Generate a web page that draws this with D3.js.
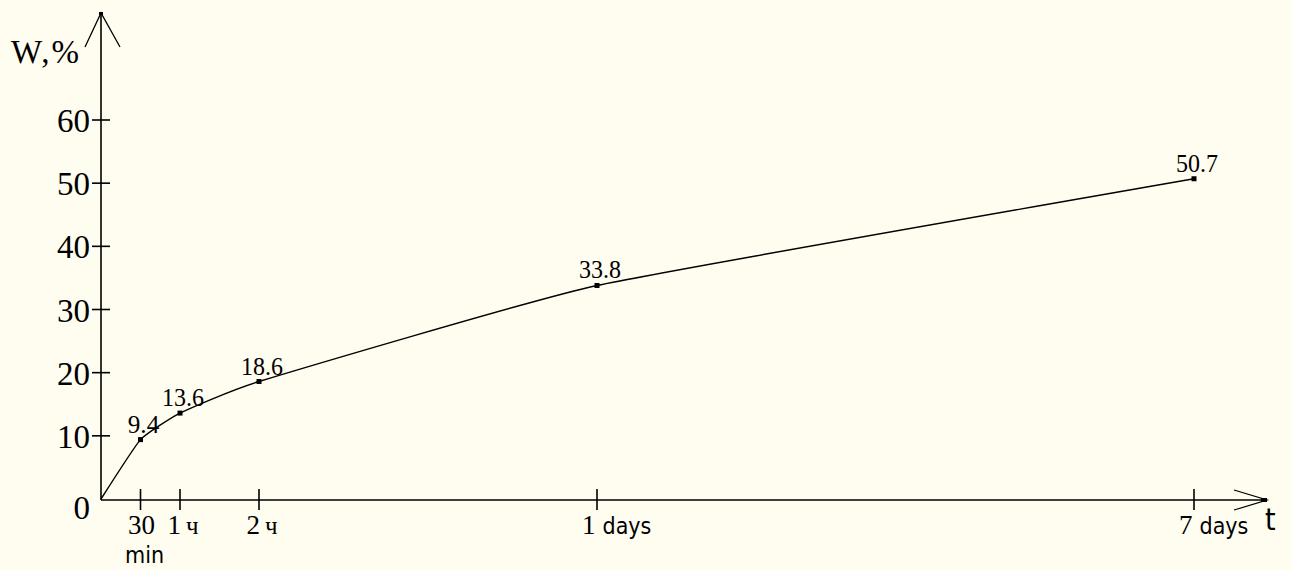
<!DOCTYPE html>
<html>
<head>
<meta charset="utf-8">
<script src="https://cdn.jsdelivr.net/npm/d3@7/dist/d3.min.js"></script>
<style>
  html, body { margin: 0; padding: 0; background: #FFFCF0; }
  svg { display: block; }
</style>
</head>
<body>
<svg id="chart" width="1292" height="570"></svg>
<script>
// ---- data ----
const times = [0, 0.5, 1, 2, 24, 168];          // hours
const values = [0, 9.4, 13.6, 18.6, 33.8, 50.7]; // W, %
const pointLabels = ["", "9.4", "13.6", "18.6", "33.8", "50.7"];
const xTickTimes = [0.5, 1, 2, 24, 168];
const xTickNumbers = ["30", "1", "2", "1", "7"];
const xTickUnits = ["", "ч", "ч", "days", "days"];
const xTickUnitsBelow = ["min", "", "", "", ""];
const yTicks = [0, 10, 20, 30, 40, 50, 60];
const yTitle = "W,%";
const xTitle = "t";

const svg = d3.select("#chart");
const ox = 101, oy = 499;

const x = d3.scaleLinear()
  .domain([0, 2, 24, 168])
  .range([ox, 259, 597, 1194]);
const y = d3.scaleLinear().domain([0, 60]).range([oy, 120]);

const ink = "#000";
const serif = "'Liberation Serif', 'Times New Roman', serif";
const sans = "'DejaVu Sans Condensed', 'Liberation Sans Narrow', 'DejaVu Sans', sans-serif";

// axes lines
svg.append("line").attr("x1", ox).attr("y1", oy + 1).attr("x2", ox).attr("y2", 13)
  .attr("stroke", ink).attr("stroke-width", 1.6);
svg.append("line").attr("x1", ox).attr("y1", oy + 1).attr("x2", 1266).attr("y2", oy + 1)
  .attr("stroke", ink).attr("stroke-width", 1.6);

// arrowheads
svg.append("polyline").attr("points", `85,47 101,13 120,47`)
  .attr("fill", "none").attr("stroke", ink).attr("stroke-width", 1.3);
svg.append("polyline").attr("points", `1234,490 1267,500 1234,510`)
  .attr("fill", "none").attr("stroke", ink).attr("stroke-width", 1.3);
svg.append("rect").attr("x", 99).attr("y", 12).attr("width", 4).attr("height", 3).attr("fill", ink);
svg.append("rect").attr("x", 1261).attr("y", 498).attr("width", 6).attr("height", 4).attr("fill", ink);

// y ticks
const yt = svg.append("g");
yTicks.forEach(v => {
  if (v > 0) {
    yt.append("line").attr("x1", ox - 9).attr("x2", ox + 9)
      .attr("y1", y(v)).attr("y2", y(v)).attr("stroke", ink).attr("stroke-width", 1.6);
  }
  yt.append("text")
    .attr("x", 90)
    .attr("y", y(v) + (v === 0 ? 20 : 12))
    .attr("text-anchor", "end")
    .attr("font-family", serif).attr("font-size", 33)
    .attr("fill", ink)
    .text(v);
});

// x ticks
const xt = svg.append("g");
xTickTimes.forEach((t, i) => {
  const px = x(t);
  xt.append("line").attr("x1", px).attr("x2", px).attr("y1", oy - 10).attr("y2", oy + 11)
    .attr("stroke", ink).attr("stroke-width", 1.6);
  const unit = xTickUnits[i];
  const txt = xt.append("text").attr("y", 534).attr("fill", ink);
  if (unit === "") {
    txt.attr("x", px + 1).attr("text-anchor", "middle");
  } else if (unit === "days") {
    txt.attr("x", px - 15).attr("text-anchor", "start");
  } else {
    txt.attr("x", px + 3).attr("text-anchor", "middle");
  }
  txt.append("tspan").attr("font-family", serif).attr("font-size", 27).text(xTickNumbers[i]);
  if (unit) {
    txt.append("tspan")
      .attr("font-family", unit === "days" ? sans : serif)
      .attr("font-size", unit === "days" ? 23 : 25)
      .attr("dx", unit === "days" ? 7 : 5)
      .text(unit);
  }
  if (xTickUnitsBelow[i]) {
    xt.append("text").attr("x", px + 4).attr("y", 563).attr("text-anchor", "middle")
      .attr("font-family", sans).attr("font-size", 23).attr("fill", ink)
      .text(xTickUnitsBelow[i]);
  }
});

// titles
svg.append("text").attr("x", 11).attr("y", 63)
  .attr("font-family", serif).attr("font-size", 33).attr("fill", ink)
  .attr("textLength", 68).text(yTitle);
svg.append("text").attr("x", 1265).attr("y", 530)
  .attr("font-family", sans).attr("font-size", 30).attr("fill", ink).text(xTitle);

// data
const pts = times.map((t, i) => ({ t, v: values[i], label: pointLabels[i] }));
const line = d3.line().x(d => x(d.t)).y(d => y(d.v)).curve(d3.curveCardinal.tension(0.6));
svg.append("path").datum(pts).attr("d", line)
  .attr("fill", "none").attr("stroke", ink).attr("stroke-width", 1.4);

svg.append("g").selectAll("rect").data(pts.filter(d => d.t > 0)).join("rect")
  .attr("x", d => x(d.t) - 2.5).attr("y", d => y(d.v) - 2.5)
  .attr("width", 5).attr("height", 5).attr("fill", ink);

svg.append("g").selectAll("text").data(pts.filter(d => d.label)).join("text")
  .attr("x", d => x(d.t) + 3).attr("y", d => y(d.v) - 7)
  .attr("text-anchor", "middle")
  .attr("font-family", serif).attr("font-size", 26).attr("fill", ink)
  .attr("textLength", d => d.label.length * 10.5)
  .attr("lengthAdjust", "spacingAndGlyphs")
  .text(d => d.label);
</script>
</body>
</html>
